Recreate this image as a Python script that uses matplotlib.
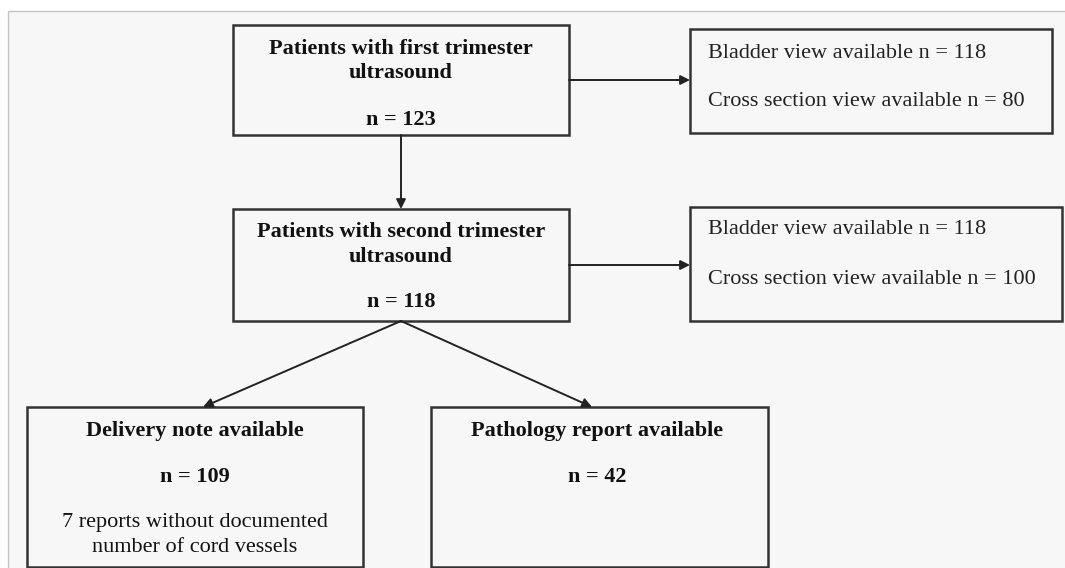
import matplotlib.pyplot as plt
from matplotlib.patches import Rectangle

# flowchart contents
stage_titles = ["Patients with first trimester\nultrasound",
                "Patients with second trimester\nultrasound",
                "Delivery note available",
                "Pathology report available"]
stage_counts = [123, 118, 109, 42]
delivery_note = "7 reports without documented\nnumber of cord vessels"
view_labels = ["Bladder view available", "Cross section view available"]
views_first = [118, 80]
views_second = [118, 100]

W, H = 1065, 568
fig = plt.figure(figsize=(W / 100, H / 100), dpi=100)
fig.patch.set_facecolor("white")
ax = fig.add_axes([0, 0, 1, 1])
ax.set_xlim(0, W)
ax.set_ylim(H, 0)
ax.axis("off")

# grey frame of the page
ax.add_patch(Rectangle((7.5, 10.5), W, H, facecolor="#f7f7f7", edgecolor="#c4c4c4", lw=1))

edge = "#333333"
serif = "Liberation Serif"
dy = 2  # small nudge, text sits a bit high with va=center


def box(x0, y0, x1, y1):
    ax.add_patch(Rectangle((x0, y0), x1 - x0, y1 - y0, facecolor="none",
                           edgecolor=edge, lw=1.8))


def arrow(x0, y0, x1, y1):
    ax.annotate("", xy=(x1, y1), xytext=(x0, y0),
                arrowprops=dict(arrowstyle="-|>", color="#222222", lw=1.4,
                                mutation_scale=14, shrinkA=0, shrinkB=0))


def lines(x, y, txt, step=24.5, **kw):
    for k, s in enumerate(txt.split("\n")):
        ax.text(x, y + dy + k * step, s, **kw)


# main boxes
box(233, 25, 569, 135)
box(233, 209, 569, 321)
box(27, 407, 363, 567)
box(431, 407, 768, 567)
# side boxes
box(690, 29, 1052, 133)
box(690, 207, 1062, 321)

bold = dict(family=serif, fontsize=16, fontweight="bold", ha="center", va="center",
            color="#111111")
lines(401, 47, stage_titles[0], **bold)
lines(401, 118, f"n = {stage_counts[0]}", **bold)
lines(401, 230, stage_titles[1], **bold)
lines(401, 300, f"n = {stage_counts[1]}", **bold)
lines(195, 429, stage_titles[2], **bold)
lines(195, 475, f"n = {stage_counts[2]}", **bold)
lines(597, 429, stage_titles[3], **bold)
lines(597, 475, f"n = {stage_counts[3]}", **bold)
plain = dict(family=serif, fontsize=16, ha="center", va="center", color="#111111")
lines(195, 521, delivery_note, **plain)

side = dict(family=serif, fontsize=16, ha="left", va="center", color="#222222")
for i, lab in enumerate(view_labels):
    lines(708, 51 + 48 * i, f"{lab} n = {views_first[i]}", **side)
    lines(708, 228 + 49 * i, f"{lab} n = {views_second[i]}", **side)

# arrows
arrow(401, 135, 401, 209)
arrow(569, 80, 690, 80)
arrow(569, 265, 690, 265)
arrow(401, 321, 203, 407)
arrow(401, 321, 592, 407)

fig.savefig("out.png", dpi=100, facecolor="white")
